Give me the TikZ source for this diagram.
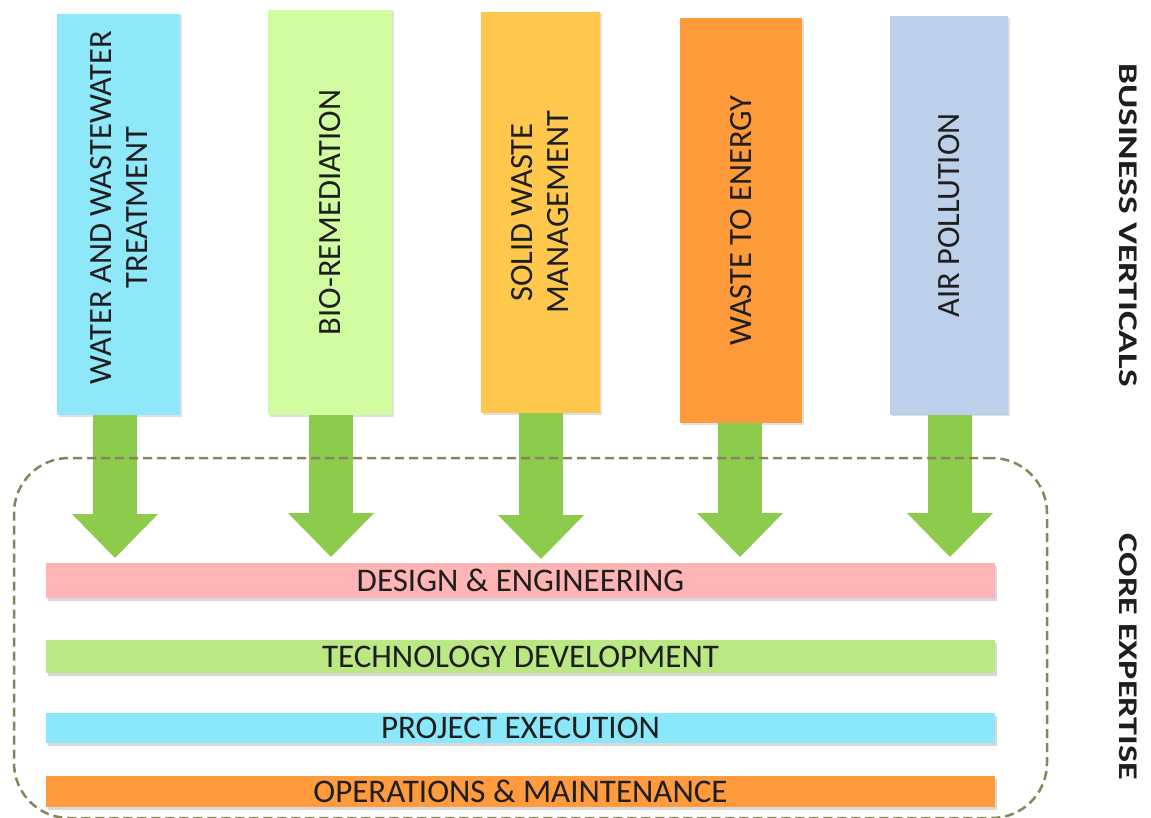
\documentclass[tikz,border=0pt]{standalone}
\usepackage{fontspec}
\setmainfont{Carlito}
\usetikzlibrary{arrows.meta,shadows}
\definecolor{cBlue}{HTML}{8FE7FA}
\definecolor{cGreen}{HTML}{D2FCA0}
\definecolor{cYellow}{HTML}{FFC84D}
\definecolor{cOrange}{HTML}{FF9A3B}
\definecolor{cAir}{HTML}{BDD0EA}
\definecolor{cArrow}{HTML}{8CCB4C}
\definecolor{cPink}{HTML}{FFB4B6}
\definecolor{cBarGreen}{HTML}{BCE884}
\definecolor{cBarCyan}{HTML}{8BE8FA}
\definecolor{cBarOrange}{HTML}{FF9A3D}
\definecolor{cDash}{HTML}{8A845B}
\definecolor{cText}{HTML}{1E1E1E}
\begin{document}
\begin{tikzpicture}[x=1pt,y=-1pt,
  vbox/.style={inner sep=0pt, draw=none, drop shadow={shadow xshift=1.5pt, shadow yshift=-1.5pt, opacity=0.25, fill=gray}},
  vtext/.style={rotate=90, align=center, text=cText, inner sep=0pt, font=\fontsize{32.5}{36}\selectfont},
  hbar/.style={inner sep=0pt, minimum width=949pt, text=cText, font=\fontsize{33}{36}\selectfont, drop shadow={shadow xshift=1.5pt, shadow yshift=-2.5pt, opacity=0.3, fill=gray}},
  bigarrow/.style={draw=cArrow, line width=44pt, -{Triangle[width=86pt,length=44pt,line width=0pt]}},
  sidelabel/.style={rotate=-90, text=cText, inner sep=0pt, font=\bfseries\fontsize{27}{30}\selectfont},
  frame/.style={draw=cDash, line width=2.5pt, dash pattern=on 9pt off 5pt, rounded corners=55pt, inner sep=0pt}
]
\useasboundingbox (0,0) rectangle (1151,818);
\fill[white] (0,0) rectangle (1151,818);

% business vertical boxes
\node[vbox, fill=cBlue,   minimum width=123pt, minimum height=401pt] (b1) at (118.5,214.5) {};
\node[vbox, fill=cGreen,  minimum width=124pt, minimum height=405pt] (b2) at (330,212.5) {};
\node[vbox, fill=cYellow, minimum width=119pt, minimum height=401pt] (b3) at (540.5,212.5) {};
\node[vbox, fill=cOrange, minimum width=122pt, minimum height=405pt] (b4) at (741,220.5) {};
\node[vbox, fill=cAir,    minimum width=118pt, minimum height=398pt] (b5) at (949,215.5) {};

\node[vtext] (t1) at ([yshift=7pt]b1.center) {WATER AND WASTEWATER\\TREATMENT};
\node[vtext] (t2) at (b2.center) {BIO-REMEDIATION};
\node[vtext] (t3) at (b3.center) {SOLID WASTE\\MANAGEMENT};
\node[vtext] (t4) at (b4.center) {WASTE TO ENERGY};
\node[vtext] (t5) at (b5.center) {AIR POLLUTION};

% arrows
\coordinate (p1) at (115,558);
\coordinate (p2) at (331,557);
\coordinate (p3) at (541,559);
\coordinate (p4) at (740,557);
\coordinate (p5) at (950,557);
\draw[bigarrow] (b1.south -| p1) -- (p1);
\draw[bigarrow] (b2.south -| p2) -- (p2);
\draw[bigarrow] (b3.south -| p3) -- (p3);
\draw[bigarrow] (b4.south -| p4) -- (p4);
\draw[bigarrow] (b5.south -| p5) -- (p5);

% core expertise bars
\node[hbar, fill=cPink,      minimum height=35pt] (d1) at (520.5,580.5) {DESIGN \& ENGINEERING};
\node[hbar, fill=cBarGreen,  minimum height=33pt] (d2) at (520.5,656.5) {TECHNOLOGY DEVELOPMENT};
\node[hbar, fill=cBarCyan,   minimum height=30pt] (d3) at (520.5,728) {PROJECT EXECUTION};
\node[hbar, fill=cBarOrange, minimum height=31pt] (d4) at (520.5,791.5) {OPERATIONS \& MAINTENANCE};

% dashed frame
\node[frame, minimum width=1033pt, minimum height=360pt] (fr) at (530.5,638) {};

% side labels
\node[sidelabel] (bv) at (1128,225) {\scalebox{1.38}[1]{BUSINESS VERTICALS}};
\node[sidelabel] (ce) at (1128,657) {\scalebox{1.34}[1]{CORE EXPERTISE}};
\end{tikzpicture}
\end{document}
